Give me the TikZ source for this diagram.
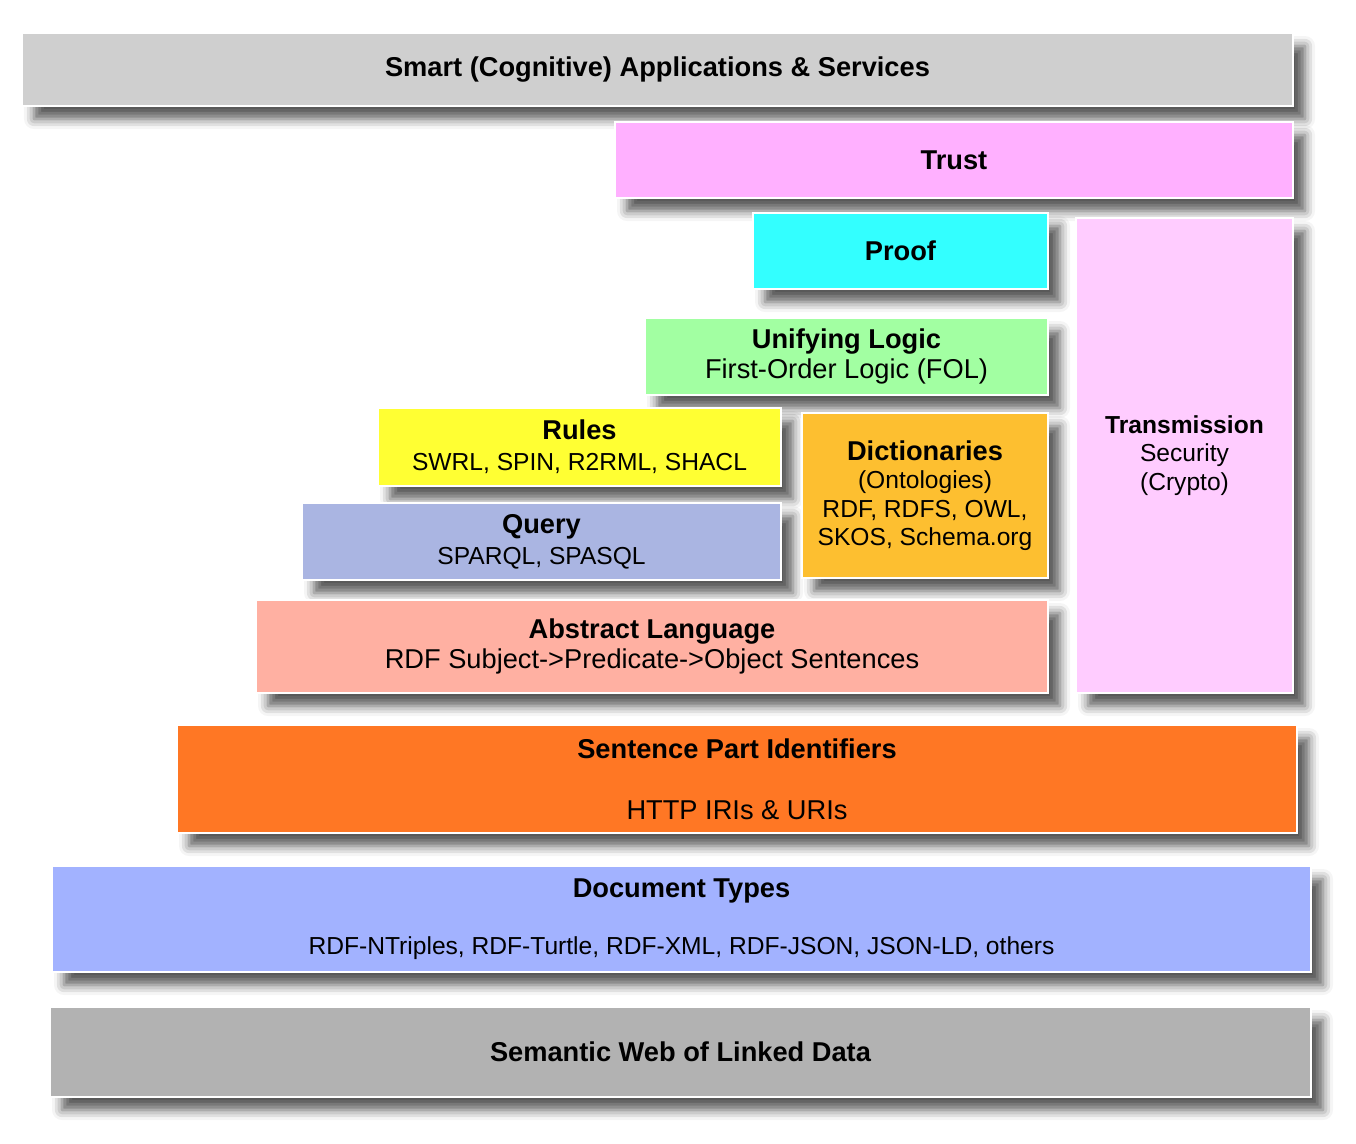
\documentclass[tikz,border=0pt]{standalone}
\usepackage{fontspec}
\setmainfont{Liberation Sans}
\usetikzlibrary{shadows.blur}
\definecolor{swSmart}{HTML}{CFCFCF}
\definecolor{swTrust}{HTML}{FFB0FF}
\definecolor{swProof}{HTML}{33FFFF}
\definecolor{swTrans}{HTML}{FFCCFF}
\definecolor{swLogic}{HTML}{A2FFA2}
\definecolor{swRules}{HTML}{FFFF33}
\definecolor{swDict}{HTML}{FDBF30}
\definecolor{swQuery}{HTML}{AAB5E2}
\definecolor{swAbstr}{HTML}{FFB0A2}
\definecolor{swIdent}{HTML}{FF7724}
\definecolor{swDocs}{HTML}{A2B2FF}
\definecolor{swWeb}{HTML}{B2B2B2}
\tikzset{
  tier/.style={
    fill=#1, draw=white, line width=0.8pt, inner sep=0pt, align=center,
    font=\fontsize{15.5}{17.5}\selectfont,
    blur shadow={shadow xshift=0.24cm, shadow yshift=-0.26cm,
                 shadow blur radius=0.2cm, shadow opacity=65}},
  tier/.default=swSmart,
  small/.style={font=\fontsize{14}{16.2}\selectfont},
}
\newcommand{\tiername}[2]{{\bfseries #1}\\{\fontsize{14}{16}\selectfont #2}}

\begin{document}
\begin{tikzpicture}
\useasboundingbox (0,0) rectangle (27.12,-22.88);

% ---- upper stack
\node[tier=swSmart, minimum width=25.42cm, minimum height=1.46cm] (SMART) at (13.15,-1.39)
  {\bfseries Smart (Cognitive) Applications \& Services};
\node[tier=swTrust, minimum width=13.56cm, minimum height=1.52cm] (TRUST) at (19.08,-3.20)
  {\bfseries Trust};
\node[tier=swProof, minimum width=5.90cm, minimum height=1.52cm] (PROOF) at (18.01,-5.02)
  {\bfseries Proof};
\node[tier=swTrans, small, minimum width=4.34cm, minimum height=9.50cm] (TRANS) at (23.69,-9.11)
  {{\bfseries Transmission}\\ Security\\ (Crypto)};
\node[tier=swLogic, minimum width=8.06cm, minimum height=1.54cm] (LOGIC) at (16.93,-7.13)
  {{\bfseries Unifying Logic}\\ First-Order Logic (FOL)};

% ---- middle stack
\node[tier=swRules, minimum width=8.06cm, minimum height=1.56cm] (RULES) at (11.59,-8.94)
  {\tiername{Rules}{SWRL, SPIN, R2RML, SHACL}};
\node[tier=swQuery, minimum width=9.58cm, minimum height=1.54cm] (QUERY) at (10.83,-10.83)
  {\tiername{Query}{SPARQL, SPASQL}};
\node[tier=swDict, small, minimum width=4.92cm, minimum height=3.30cm] (DICT) at (18.50,-9.91)
  {{\fontsize{15.5}{17.5}\selectfont\bfseries Dictionaries}\\ (Ontologies)\\ RDF, RDFS, OWL,\\ SKOS, Schema.org};
\node[tier=swAbstr, minimum width=15.84cm, minimum height=1.86cm] (ABSTR) at (13.04,-12.93)
  {{\bfseries Abstract Language}\\ RDF Subject->Predicate->Object Sentences};

% ---- lower stack
\node[tier=swIdent, minimum width=22.40cm, minimum height=2.16cm] (IDENT) at (14.74,-15.58)
  {{\bfseries Sentence Part Identifiers}\\[17pt] HTTP IRIs \& URIs};
\node[tier=swDocs, minimum width=25.18cm, minimum height=2.12cm] (DOCS) at (13.63,-18.38)
  {{\bfseries Document Types}\\[15pt] {\fontsize{14}{16}\selectfont RDF-NTriples, RDF-Turtle, RDF-XML, RDF-JSON, JSON-LD, others}};
\node[tier=swWeb, minimum width=25.22cm, minimum height=1.80cm] (WEB) at (13.61,-21.04)
  {\bfseries Semantic Web of Linked Data};

\end{tikzpicture}
\end{document}
